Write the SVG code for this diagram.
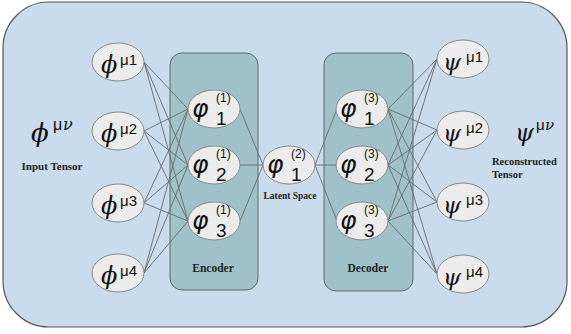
<svg xmlns="http://www.w3.org/2000/svg" width="571" height="334" viewBox="0 0 571 334">
<style>
.bg{fill:#c9dcee;stroke:#555;stroke-width:1.2}
.box{fill:#9fc2ca;stroke:#666;stroke-width:1}
.nd{fill:#ececec;stroke:#888;stroke-width:1}
.ln{stroke:#6a6a6a;stroke-width:0.9;fill:none}
.lab{font-family:"Liberation Serif",serif;font-weight:bold;fill:#222}
.g{font-family:"DejaVu Serif",serif;font-style:italic;fill:#111}
.s{font-family:"Liberation Sans",Arial,sans-serif;fill:#111}
.p{font-family:"DejaVu Sans",sans-serif;font-style:italic;fill:#111;font-size:25px}
.sup{font-family:"Liberation Sans",Arial,sans-serif;fill:#111;font-size:12px}
.sub{font-family:"Liberation Sans",Arial,sans-serif;fill:#111;font-size:19px}
</style>
<rect class="bg" x="3" y="2" width="564" height="325" rx="46"/>
<g id="encoder"><rect class="box" x="170" y="53" width="88" height="237" rx="12"/><text class="lab" x="213" y="272" font-size="11.5" text-anchor="middle">Encoder</text></g>
<g id="decoder"><rect class="box" x="324" y="53" width="89" height="238" rx="12"/><text class="lab" x="368" y="272" font-size="11.5" text-anchor="middle">Decoder</text></g>
<g id="connectors">
<path class="ln" d="M144 62L188 109M144 62L188 165M144 62L188 221M144 131L188 109M144 131L188 165M144 131L188 221M144 203L188 109M144 203L188 165M144 203L188 221M144 273L188 109M144 273L188 165M144 273L188 221"/>
<path class="ln" d="M240 109L263 165M240 165L263 165M240 221L263 165M315 165L337 109M315 165L337 165M315 165L337 221"/>
<path class="ln" d="M388 109L437 59M388 109L437 130M388 109L437 202M388 109L437 274M388 165L437 59M388 165L437 130M388 165L437 202M388 165L437 274M388 221L437 59M388 221L437 130M388 221L437 202M388 221L437 274"/>
</g>
<g id="input-label"><text x="31" y="142" class="g" font-size="26">ϕ</text><text x="53" y="130" class="s" font-size="16">μ</text><text x="63" y="130" class="g" font-size="16">ν</text><text class="lab" x="52" y="170" font-size="11" text-anchor="middle">Input Tensor</text></g>
<g id="in1"><ellipse class="nd" cx="118" cy="62" rx="26" ry="19"/><text class="g" x="101" y="73" font-size="24">ϕ</text><text class="s" x="120" y="65" font-size="15">μ1</text></g>
<g id="in2"><ellipse class="nd" cx="118" cy="131" rx="26" ry="19"/><text class="g" x="101" y="142" font-size="24">ϕ</text><text class="s" x="120" y="134" font-size="15">μ2</text></g>
<g id="in3"><ellipse class="nd" cx="118" cy="203" rx="26" ry="19"/><text class="g" x="101" y="214" font-size="24">ϕ</text><text class="s" x="120" y="206" font-size="15">μ3</text></g>
<g id="in4"><ellipse class="nd" cx="118" cy="273" rx="26" ry="19"/><text class="g" x="101" y="284" font-size="24">ϕ</text><text class="s" x="120" y="276" font-size="15">μ4</text></g>
<g id="enc1"><ellipse class="nd" cx="214" cy="109" rx="26" ry="19"/><text class="p" x="192" y="117">φ</text><text class="sup" x="216" y="102">(1)</text><text class="sub" x="216" y="125">1</text></g>
<g id="enc2"><ellipse class="nd" cx="214" cy="165" rx="26" ry="19"/><text class="p" x="192" y="173">φ</text><text class="sup" x="216" y="158">(1)</text><text class="sub" x="216" y="181">2</text></g>
<g id="enc3"><ellipse class="nd" cx="214" cy="221" rx="26" ry="19"/><text class="p" x="192" y="229">φ</text><text class="sup" x="216" y="214">(1)</text><text class="sub" x="216" y="237">3</text></g>
<g id="latent"><ellipse class="nd" cx="289" cy="165" rx="26" ry="19"/><text class="p" x="267" y="173">φ</text><text class="sup" x="291" y="158">(2)</text><text class="sub" x="291" y="181">1</text><text class="lab" x="290" y="199" font-size="9.5" text-anchor="middle">Latent Space</text></g>
<g id="dec1"><ellipse class="nd" cx="362" cy="109" rx="26" ry="19"/><text class="p" x="340" y="117">φ</text><text class="sup" x="364" y="102">(3)</text><text class="sub" x="364" y="125">1</text></g>
<g id="dec2"><ellipse class="nd" cx="362" cy="165" rx="26" ry="19"/><text class="p" x="340" y="173">φ</text><text class="sup" x="364" y="158">(3)</text><text class="sub" x="364" y="181">2</text></g>
<g id="dec3"><ellipse class="nd" cx="362" cy="221" rx="26" ry="19"/><text class="p" x="340" y="229">φ</text><text class="sup" x="364" y="214">(3)</text><text class="sub" x="364" y="237">3</text></g>
<g id="out1"><ellipse class="nd" cx="463" cy="59" rx="26" ry="19"/><text class="g" x="443" y="70" font-size="23">ψ</text><text class="s" x="466" y="62" font-size="15">μ1</text></g>
<g id="out2"><ellipse class="nd" cx="463" cy="130" rx="26" ry="19"/><text class="g" x="443" y="141" font-size="23">ψ</text><text class="s" x="466" y="133" font-size="15">μ2</text></g>
<g id="out3"><ellipse class="nd" cx="463" cy="202" rx="26" ry="19"/><text class="g" x="443" y="213" font-size="23">ψ</text><text class="s" x="466" y="205" font-size="15">μ3</text></g>
<g id="out4"><ellipse class="nd" cx="463" cy="274" rx="26" ry="19"/><text class="g" x="443" y="285" font-size="23">ψ</text><text class="s" x="466" y="277" font-size="15">μ4</text></g>
<g id="output-label"><text x="515" y="141" class="g" font-size="24">ψ</text><text x="536" y="130" class="s" font-size="15">μ</text><text x="545" y="130" class="g" font-size="15">ν</text><text class="lab" x="492" y="165" font-size="10.5">Reconstructed</text><text class="lab" x="492" y="178" font-size="10.5">Tensor</text></g>
</svg>
